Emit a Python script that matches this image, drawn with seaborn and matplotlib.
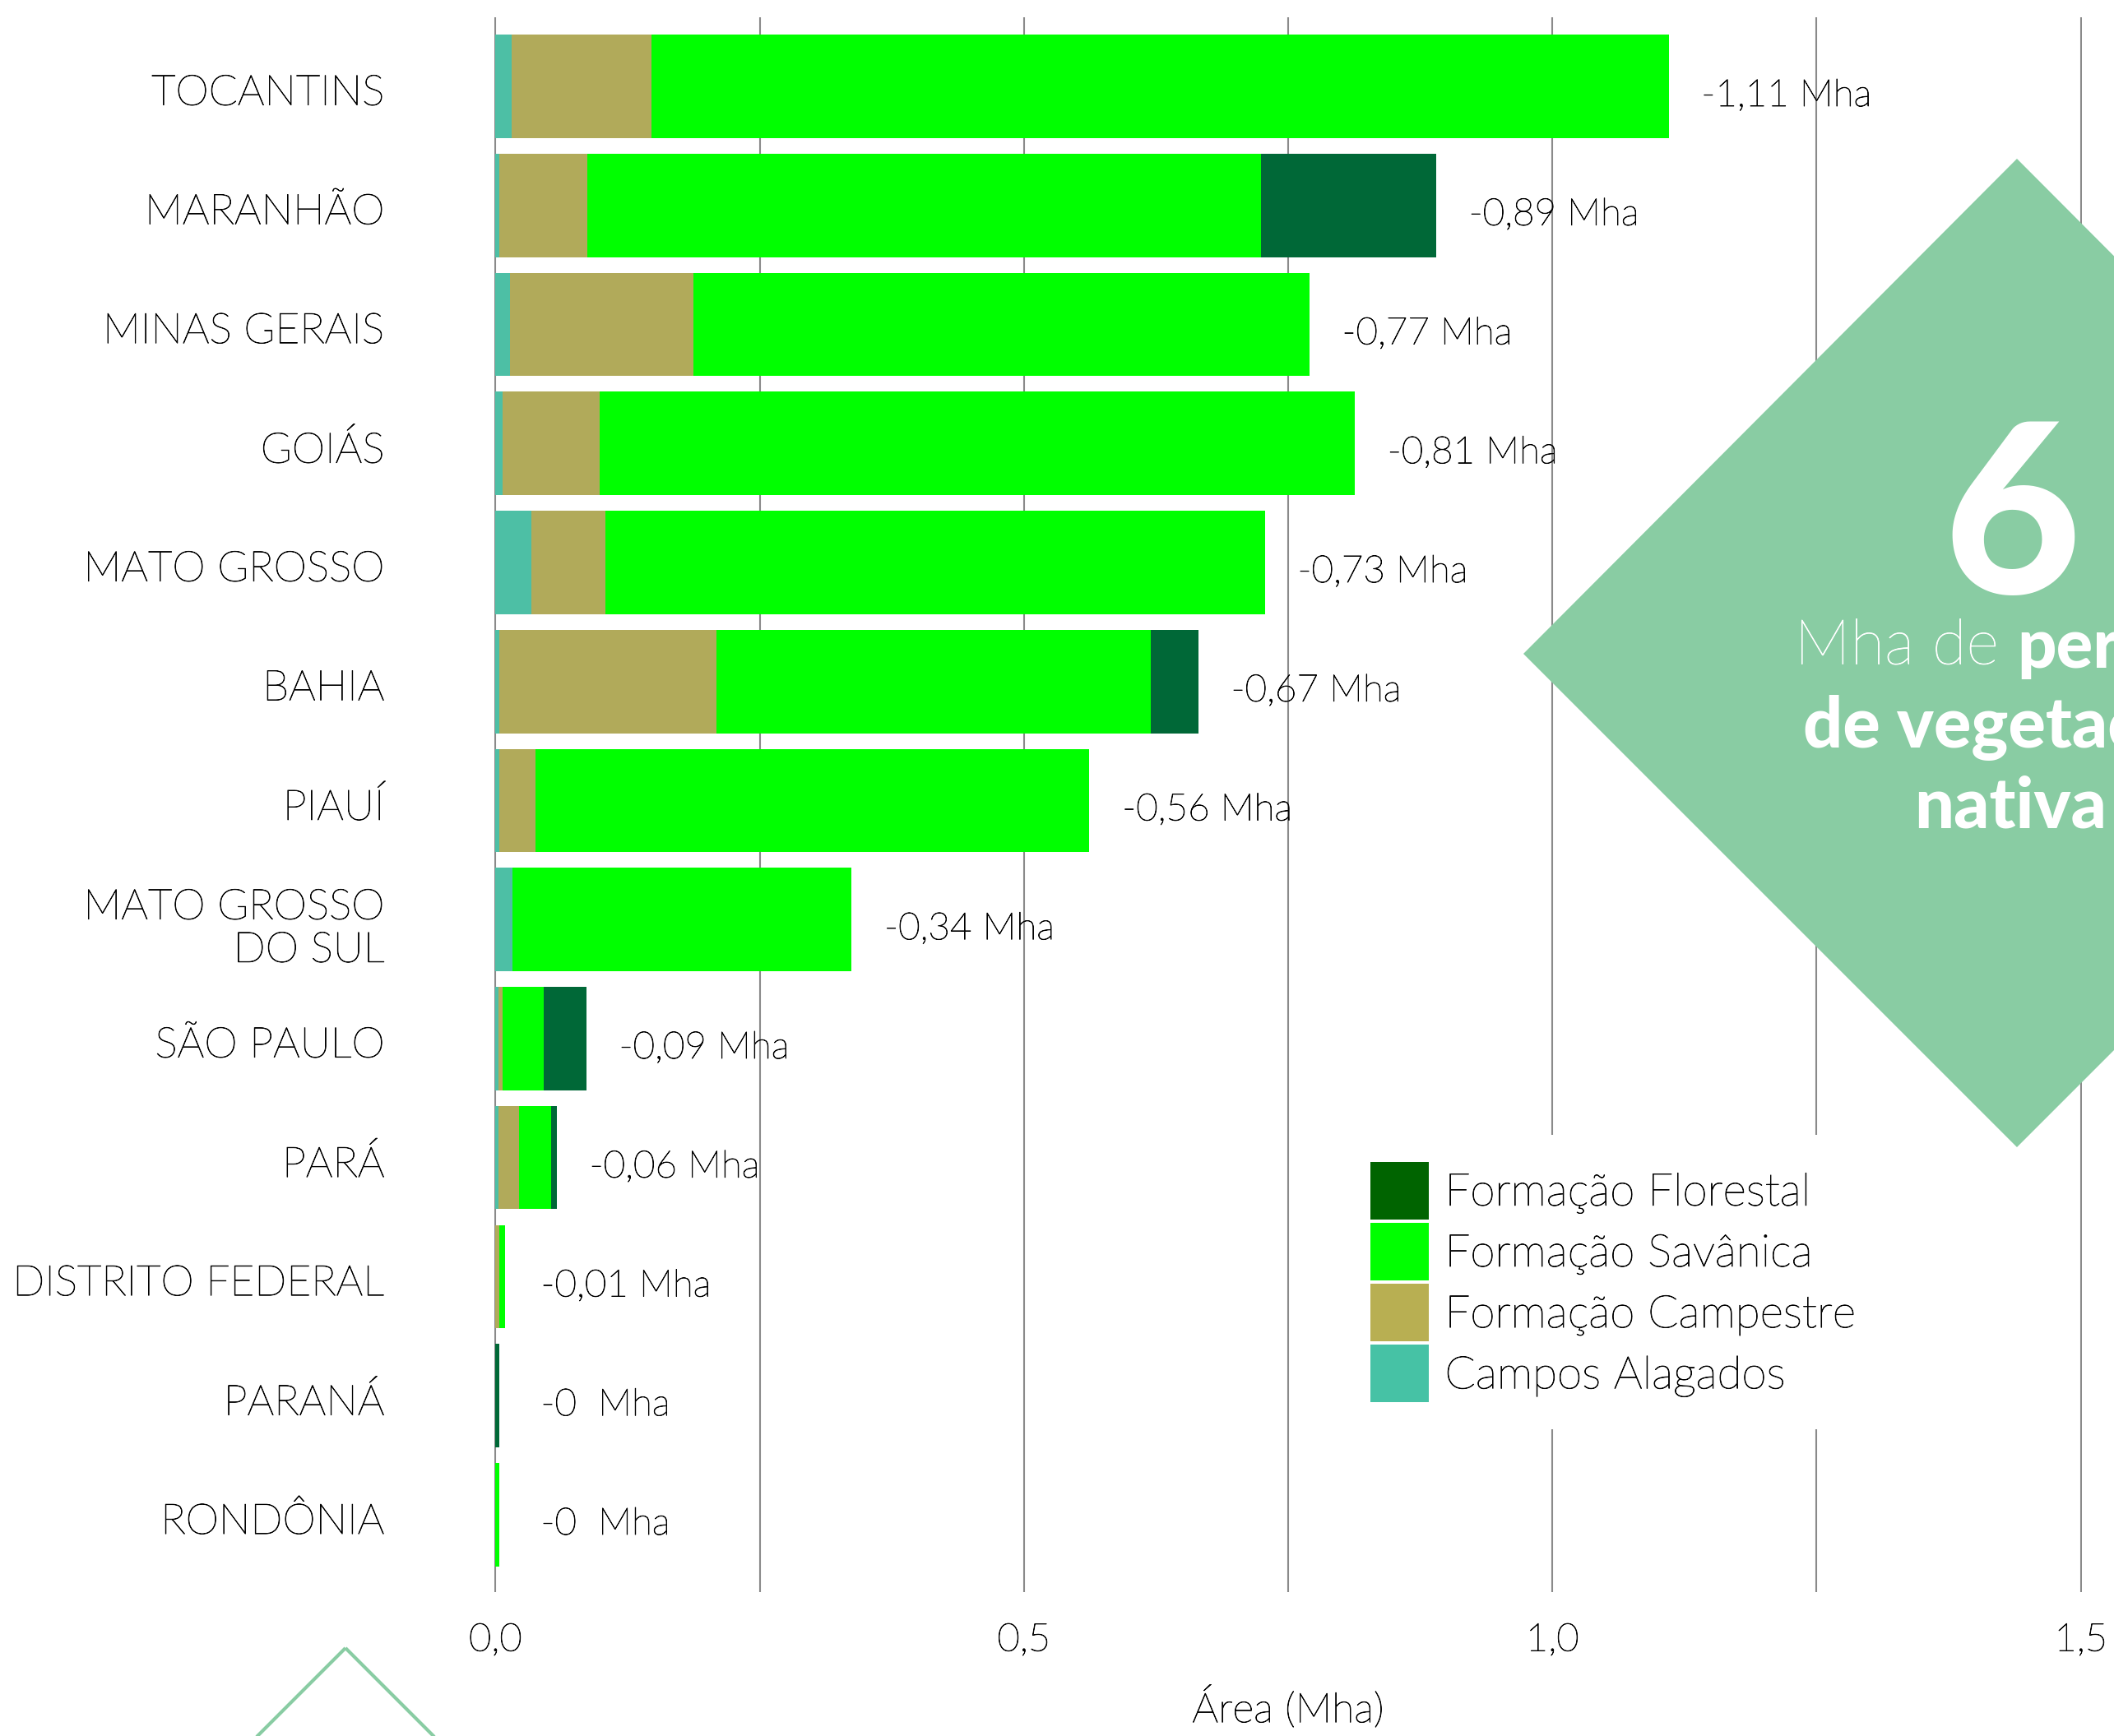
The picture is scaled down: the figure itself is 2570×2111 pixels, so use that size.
import numpy as np
import pandas as pd
import matplotlib
matplotlib.use("Agg")
import matplotlib.pyplot as plt
import matplotlib.patheffects as pe
from matplotlib.patches import Polygon, Patch
from matplotlib.transforms import ScaledTranslation
import seaborn as sns

# ---- data (Mha) ----
states = ["TOCANTINS", "MARANHÃO", "MINAS GERAIS", "GOIÁS", "MATO GROSSO", "BAHIA",
          "PIAUÍ", "MATO GROSSO\nDO SUL", "SÃO PAULO", "PARÁ", "DISTRITO FEDERAL",
          "PARANÁ", "RONDÔNIA"]
campos_alagados = [0.015, 0.004, 0.014, 0.007, 0.034, 0.004, 0.004, 0.016, 0.003, 0.003, 0.0, 0.0, 0.0]
campestre = [0.133, 0.083, 0.173, 0.092, 0.070, 0.205, 0.034, 0.0, 0.004, 0.019, 0.0035, 0.0, 0.0]
savanica = [0.962, 0.637, 0.583, 0.714, 0.624, 0.411, 0.524, 0.321, 0.039, 0.031, 0.0055, 0.0, 0.004]
florestal = [0.0, 0.166, 0.0, 0.0, 0.0, 0.045, 0.0, 0.0, 0.040, 0.005, 0.0, 0.004, 0.0]
value_labels = ["-1,11 Mha", "-0,89 Mha", "-0,77 Mha", "-0,81 Mha", "-0,73 Mha", "-0,67 Mha",
                "-0,56 Mha", "-0,34 Mha", "-0,09 Mha", "-0,06 Mha", "-0,01 Mha", "-0  Mha", "-0  Mha"]
x_ticks = [0.0, 0.25, 0.5, 0.75, 1.0, 1.25, 1.5]
x_tick_labels = ["0,0", "", "0,5", "", "1,0", "", "1,5"]
legend_labels = ["Formação Florestal", "Formação Savânica", "Formação Campestre", "Campos Alagados"]

# colours
c_flor, c_sav, c_camp, c_alag = "#006837", "#00ff00", "#b1aa5a", "#4dbfa5"
leg_colors = ["#006400", "#00ff00", "#b8af52", "#46c2a5"]
shape_green = "#89cca3"

df = pd.DataFrame({"estado": states, "alag": campos_alagados, "camp": campestre,
                   "sav": savanica, "flor": florestal})
df["c1"] = df["alag"]
df["c2"] = df["c1"] + df["camp"]
df["c3"] = df["c2"] + df["sav"]
df["c4"] = df["c3"] + df["flor"]

sns.set_style("white")
plt.rcParams["font.family"] = ["Lato", "DejaVu Sans"]
plt.rcParams.update({"text.color": "black", "axes.labelcolor": "black",
                     "xtick.color": "black", "ytick.color": "black"})

# light type with a hairline outline to give it a little more body
firm = [pe.withStroke(linewidth=0.6, foreground="black")]
firm_white = [pe.withStroke(linewidth=0.6, foreground="white")]

W, H = 2570, 2111
fig = plt.figure(figsize=(W / 100, H / 100), dpi=100)
ax_left, ax_right, ax_top, ax_bottom = 601, 2531, 21, 1936
ax = fig.add_axes([ax_left / W, 1 - ax_bottom / H, (ax_right - ax_left) / W, (ax_bottom - ax_top) / H])

# stacked bars: draw cumulative totals from largest to smallest
for col, colr in [("c4", c_flor), ("c3", c_sav), ("c2", c_camp), ("c1", c_alag)]:
    sns.barplot(data=df, x=col, y="estado", order=states, orient="h", color=colr,
                saturation=1, width=0.868, errorbar=None, linewidth=0, ax=ax, zorder=3)

ax.set_xlim(-0.001, 1.501)
ax.set_ylim(12.65, -0.58)
ax.set_xticks(x_ticks)
ax.set_xticklabels(x_tick_labels, fontsize=34, fontweight="light")
ax.xaxis.grid(True, color="#8a8a8a", linewidth=1.5, zorder=0)
ax.yaxis.grid(False)
ax.set_axisbelow(True)
for s in ax.spines.values():
    s.set_visible(False)
ax.tick_params(axis="both", length=0)
ax.tick_params(axis="x", pad=27)
ax.tick_params(axis="y", pad=96)
ax.set_ylabel("")
ax.set_xlabel("Área (Mha)", fontsize=36, fontweight="light", labelpad=25, path_effects=firm)
ax.set_yticks(range(len(states)))
ax.set_yticklabels(states, fontsize=37, fontweight="light", linespacing=1.15)
shift = ScaledTranslation(0, -0.04, fig.dpi_scale_trans)
for lab in ax.get_yticklabels():
    lab.set_transform(lab.get_transform() + shift)
    lab.set_path_effects(firm)
for lab in ax.get_xticklabels():
    lab.set_path_effects(firm)

# value labels to the right of each bar
for i, (tot, txt) in enumerate(zip(df["c4"], value_labels)):
    ax.text(max(tot, 0.012) + 0.031, i + 0.08, txt, fontsize=33, fontweight="light",
            va="center", ha="left", zorder=4, path_effects=firm)

# legend
handles = [Patch(facecolor=c, edgecolor="none") for c in leg_colors]
leg = ax.legend(handles, legend_labels, loc="upper left",
                bbox_to_anchor=(1633 / W, 1 - 1380 / H), bbox_transform=fig.transFigure,
                prop={"weight": "light", "size": 39.5}, frameon=True,
                facecolor="white", edgecolor="none", framealpha=1, fancybox=False,
                handlelength=1.29, handleheight=1.58, labelspacing=0.08,
                handletextpad=0.36, borderpad=0.6, borderaxespad=0)
leg.set_zorder(6)
for t in leg.get_texts():
    t.set_path_effects(firm)


def fig_xy(pts):
    return [(x / W, 1 - y / H) for x, y in pts]


# green diamond with headline figure
diamond = Polygon(fig_xy([(1852, 795), (2452, 193), (3052, 795), (2452, 1395)]),
                  closed=True, transform=fig.transFigure, facecolor=shape_green,
                  edgecolor="none", zorder=5)
fig.add_artist(diamond)
fig.text(2446 / W, 1 - 722 / H, "6", color="white", fontsize=208, fontweight="black",
         ha="center", va="baseline", zorder=6)
fig.text(2430 / W, 1 - 787 / H, "Mha de", color="white", fontsize=55, fontweight="light",
         ha="right", va="center", zorder=6, path_effects=firm_white)
fig.text(2452 / W, 1 - 787 / H, "perda", color="white", fontsize=60, fontweight="black",
         ha="left", va="center", zorder=6)
fig.text(2444 / W, 1 - 885 / H, "de vegetação", color="white", fontsize=61, fontweight="black",
         ha="center", va="center", zorder=6)
fig.text(2444 / W, 1 - 982 / H, "nativa", color="white", fontsize=61, fontweight="black",
         ha="center", va="center", zorder=6)

# outlined diamond at the bottom left
outline = Polygon(fig_xy([(420, 2004), (620, 2204), (420, 2404), (220, 2204)]),
                  closed=True, transform=fig.transFigure, facecolor="none",
                  edgecolor=shape_green, linewidth=3, zorder=5)
fig.add_artist(outline)

fig.savefig("out.png", dpi=100, facecolor="white")
